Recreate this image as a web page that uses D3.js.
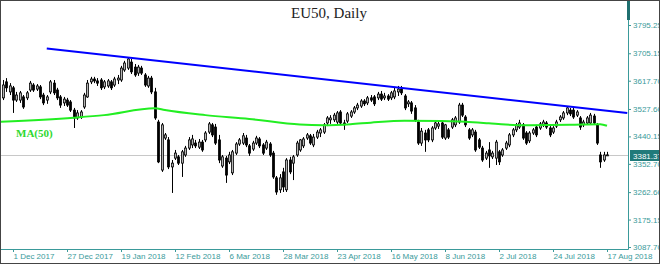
<!DOCTYPE html>
<html>
<head>
<meta charset="utf-8">
<script src="https://cdn.jsdelivr.net/npm/d3@7"></script>
<style>
  html, body { margin: 0; padding: 0; background: #fff; }
  svg { display: block; }
</style>
</head>
<body>
<div id="chart"></div>
<script>
// EU50 daily candles, [open, high, low, close], first bar sits 3 bars before "1 Dec 2017"
const FIRST_BAR = -3;
const ohlc = [
  [3563,3620,3556,3604], [3614,3626,3582,3595], [3582,3610,3572,3601],
  [3595,3601,3515,3556], [3556,3582,3550,3572], [3556,3585,3547,3579], [3566,3572,3528,3534],
  [3563,3585,3556,3579], [3588,3617,3582,3610], [3604,3610,3582,3588], [3591,3607,3585,3601],
  [3598,3604,3559,3566], [3572,3579,3540,3547], [3556,3572,3544,3566], [3582,3620,3575,3614],
  [3610,3620,3572,3579], [3588,3595,3556,3563], [3566,3572,3531,3540], [3547,3566,3537,3559],
  [3556,3563,3534,3540], [3550,3556,3518,3524], [3524,3531,3467,3499], [3499,3524,3493,3515],
  [3502,3524,3496,3518], [3534,3579,3528,3572], [3566,3620,3563,3610], [3614,3630,3607,3623],
  [3623,3630,3610,3617], [3617,3626,3601,3610], [3620,3626,3588,3595], [3598,3620,3591,3614],
  [3601,3623,3595,3617], [3614,3620,3588,3595], [3604,3630,3598,3623], [3620,3636,3607,3626],
  [3620,3665,3614,3658], [3652,3681,3646,3674], [3658,3693,3652,3687], [3677,3687,3639,3646],
  [3661,3671,3630,3636], [3642,3668,3633,3661], [3658,3665,3636,3642], [3636,3642,3598,3604],
  [3601,3633,3595,3626], [3626,3633,3575,3582], [3582,3595,3493,3499], [3486,3493,3355,3359],
  [3333,3483,3327,3477], [3435,3451,3429,3445], [3429,3438,3336,3343], [3343,3365,3260,3355],
  [3371,3397,3365,3387], [3375,3381,3349,3355], [3355,3397,3311,3391], [3381,3410,3375,3403],
  [3403,3438,3397,3429], [3413,3445,3403,3432], [3419,3429,3403,3410], [3406,3432,3400,3422],
  [3422,3429,3391,3397], [3429,3457,3422,3451], [3454,3486,3448,3480], [3477,3483,3438,3445],
  [3470,3480,3413,3419], [3429,3445,3355,3365], [3346,3381,3340,3375], [3371,3378,3292,3317],
  [3359,3391,3352,3381], [3324,3397,3317,3391], [3387,3422,3381,3416], [3416,3435,3410,3429],
  [3419,3451,3413,3442], [3435,3445,3406,3413], [3410,3416,3378,3387], [3400,3426,3394,3419],
  [3419,3442,3413,3435], [3432,3438,3403,3410], [3413,3419,3381,3387], [3403,3429,3397,3422],
  [3416,3422,3375,3381], [3387,3394,3305,3311], [3308,3314,3254,3263], [3270,3320,3260,3308],
  [3327,3340,3263,3279], [3270,3371,3263,3365], [3365,3375,3320,3327], [3355,3381,3301,3375],
  [3381,3426,3375,3419], [3397,3432,3391,3429], [3410,3438,3403,3432], [3435,3451,3429,3445],
  [3442,3448,3413,3419], [3413,3448,3406,3438], [3438,3461,3432,3454], [3451,3467,3438,3461],
  [3454,3483,3448,3477], [3483,3505,3473,3499], [3493,3508,3480,3499], [3493,3515,3486,3508],
  [3486,3521,3480,3515], [3518,3524,3477,3483], [3483,3493,3461,3477], [3489,3518,3483,3512],
  [3505,3524,3499,3518], [3518,3537,3512,3531], [3531,3547,3524,3540], [3537,3559,3531,3553],
  [3553,3559,3537,3544], [3547,3569,3540,3563], [3563,3572,3550,3556], [3566,3572,3537,3544],
  [3563,3582,3556,3575], [3575,3585,3553,3559], [3563,3579,3556,3569], [3569,3575,3553,3559],
  [3563,3585,3556,3579], [3566,3595,3559,3585], [3582,3601,3569,3591], [3591,3601,3572,3579],
  [3569,3575,3524,3531], [3544,3556,3534,3550], [3547,3553,3512,3521], [3531,3540,3486,3493],
  [3486,3493,3413,3419], [3419,3467,3410,3457], [3451,3461,3391,3429], [3461,3467,3422,3429],
  [3429,3473,3422,3467], [3467,3489,3461,3483], [3473,3489,3464,3480], [3483,3489,3432,3438],
  [3435,3480,3429,3477], [3461,3467,3432,3438], [3470,3499,3464,3493], [3477,3505,3470,3499],
  [3486,3547,3480,3540], [3540,3547,3502,3508], [3502,3508,3470,3477], [3461,3467,3429,3435],
  [3445,3467,3438,3461], [3454,3461,3391,3397], [3429,3435,3400,3406], [3403,3410,3359,3365],
  [3371,3394,3365,3387], [3397,3422,3340,3378], [3375,3394,3368,3387], [3371,3429,3349,3422],
  [3391,3397,3349,3359], [3381,3403,3375,3397], [3403,3426,3397,3419], [3413,3451,3406,3445],
  [3445,3467,3438,3461], [3461,3483,3454,3477], [3470,3493,3464,3483], [3477,3483,3429,3435],
  [3451,3457,3413,3419], [3426,3457,3419,3451], [3451,3467,3445,3461], [3470,3477,3438,3445],
  [3467,3486,3461,3480], [3477,3493,3470,3486], [3483,3489,3464,3470], [3467,3473,3438,3445],
  [3454,3473,3448,3467], [3473,3493,3467,3486], [3493,3508,3486,3502], [3499,3521,3493,3515],
  [3515,3537,3508,3531], [3524,3531,3505,3512], [3524,3531,3496,3502], [3508,3524,3502,3518],
  [3499,3505,3461,3470], [3477,3493,3470,3486], [3483,3505,3477,3499], [3483,3515,3477,3508],
  [3505,3512,3477,3483], [3477,3483,3413,3419], [3381,3391,3340,3359], [3365,3391,3359,3381],
  [3381,3391,3378,3381.37]
];

const xTickLabels = ['1 Dec 2017', '27 Dec 2017', '19 Jan 2018', '12 Feb 2018', '6 Mar 2018', '28 Mar 2018',
  '23 Apr 2018', '16 May 2018', '8 Jun 2018', '2 Jul 2018', '24 Jul 2018', '17 Aug 2018'];
const xTickBars = [0, 16, 32, 48, 64, 80, 96, 112, 128, 144, 160, 176];
const yTicks = [3087.70, 3175.15, 3262.60, 3352.70, 3440.15, 3527.60, 3617.70, 3705.15, 3795.25];

// MA(50) at a handful of bars
const maBars = [-4, 18, 27, 42, 45, 57, 70, 85, 92, 100, 106, 116, 127, 134, 141, 146, 153, 165, 174, 176];
const maValues = [3487, 3500, 3508, 3530, 3524, 3508, 3496, 3478, 3476, 3479, 3484, 3490, 3489, 3487, 3482, 3478, 3476, 3477, 3479, 3474];

// resistance trend line
const trendBars = [10, 182];
const trendValues = [3720, 3515];

const LAST_CLOSE = 3381.37;
const TEAL = '#3a9a9a';

function renderChart() {
  const width = 660;
  const height = 264;
  const plotRight = 628;
  const plotBottom = 249;

  const svg = d3.select('#chart').append('svg')
    .attr('width', width)
    .attr('height', height)
    .style('font-family', '"Liberation Sans", Arial, sans-serif');

  svg.append('rect').attr('width', width).attr('height', height).attr('fill', '#fff');

  const x = d3.scaleLinear().domain([0, 176]).range([13, 607]);
  const y = d3.scaleLinear().domain([3087.70, 3795.25]).range([247, 25]);

  svg.append('clipPath').attr('id', 'plot-clip')
    .append('rect').attr('x', 1).attr('y', 1).attr('width', plotRight - 1).attr('height', plotBottom - 1);

  const plot = svg.append('g').attr('clip-path', 'url(#plot-clip)');

  // last price line
  const yLast = Math.round(y(LAST_CLOSE)) + 0.5;
  plot.append('line')
    .attr('x1', 0).attr('x2', plotRight)
    .attr('y1', yLast).attr('y2', yLast)
    .attr('stroke', '#c8c8c8').attr('stroke-width', 1);

  // candles
  const bars = ohlc.map((d, i) => ({ bar: FIRST_BAR + i, o: d[0], h: d[1], l: d[2], c: d[3] }));
  const candle = plot.selectAll('g.candle')
    .data(bars)
    .enter()
    .append('g')
    .attr('class', 'candle');

  candle.append('line')
    .attr('x1', d => Math.round(x(d.bar)) + 0.5)
    .attr('x2', d => Math.round(x(d.bar)) + 0.5)
    .attr('y1', d => y(d.h))
    .attr('y2', d => y(d.l))
    .attr('stroke', '#000')
    .attr('stroke-width', 1);

  candle.append('rect')
    .attr('x', d => Math.round(x(d.bar)) - 0.5)
    .attr('width', 2)
    .attr('y', d => y(Math.max(d.o, d.c)))
    .attr('height', d => Math.max(1, Math.abs(y(d.o) - y(d.c))))
    .attr('fill', d => d.c >= d.o ? '#b4b4b4' : '#000')
    .attr('stroke', '#000')
    .attr('stroke-width', 0.8);

  // MA(50)
  const maLine = d3.line()
    .x(d => x(d[0]))
    .y(d => y(d[1]))
    .curve(d3.curveMonotoneX);

  plot.append('path')
    .datum(d3.zip(maBars, maValues))
    .attr('d', maLine)
    .attr('fill', 'none')
    .attr('stroke', '#22ee22')
    .attr('stroke-width', 2);

  // trend line
  plot.append('path')
    .datum(d3.zip(trendBars, trendValues))
    .attr('d', d3.line().x(d => x(d[0])).y(d => y(d[1])))
    .attr('fill', 'none')
    .attr('stroke', '#0000ff')
    .attr('stroke-width', 2);

  // axes
  const yAxis = d3.axisRight(y)
    .tickValues(yTicks)
    .tickSize(3)
    .tickPadding(2)
    .tickFormat(d3.format('.2f'));

  const yg = svg.append('g')
    .attr('transform', `translate(${plotRight},0)`)
    .call(yAxis);
  yg.select('.domain').remove();
  yg.selectAll('.tick line').attr('stroke', TEAL);
  yg.selectAll('.tick text')
    .attr('fill', TEAL)
    .style('font-size', '8px')
    .style('font-family', '"Liberation Sans", Arial, sans-serif');

  const xAxis = d3.axisBottom(x)
    .tickValues(xTickBars)
    .tickSize(3)
    .tickFormat((d, i) => xTickLabels[i]);

  const xg = svg.append('g')
    .attr('transform', `translate(0,${plotBottom})`)
    .call(xAxis);
  xg.select('.domain').remove();
  xg.selectAll('.tick line').attr('stroke', TEAL);
  xg.selectAll('.tick text')
    .attr('fill', TEAL)
    .attr('text-anchor', 'start')
    .attr('x', 0)
    .attr('y', 4)
    .style('font-size', '8px')
    .style('font-family', '"Liberation Sans", Arial, sans-serif');

  svg.append('line')
    .attr('x1', 0).attr('x2', plotRight + 0.5)
    .attr('y1', plotBottom + 0.5).attr('y2', plotBottom + 0.5)
    .attr('stroke', TEAL);
  svg.append('line')
    .attr('x1', plotRight + 0.5).attr('x2', plotRight + 0.5)
    .attr('y1', 0).attr('y2', plotBottom + 0.5)
    .attr('stroke', TEAL);
  svg.append('rect')
    .attr('x', plotRight - 1).attr('y', 1)
    .attr('width', 3).attr('height', 19)
    .attr('fill', '#1f6f6f');

  // last price tag
  svg.append('rect')
    .attr('x', plotRight + 2).attr('y', yLast - 5.5)
    .attr('width', 34).attr('height', 11)
    .attr('fill', '#207a7a');
  svg.append('text')
    .attr('x', plotRight + 5).attr('y', yLast + 3)
    .attr('fill', '#fff')
    .style('font-size', '8px')
    .text(d3.format('.2f')(LAST_CLOSE));

  // labels
  svg.append('text')
    .attr('x', 329).attr('y', 18)
    .attr('text-anchor', 'middle')
    .attr('fill', '#222')
    .style('font-family', '"Liberation Serif", "Times New Roman", serif')
    .style('font-size', '15px')
    .text('EU50, Daily');

  svg.append('text')
    .attr('x', 16).attr('y', 137)
    .attr('fill', '#2ed82e')
    .style('font-family', '"Liberation Serif", "Times New Roman", serif')
    .style('font-size', '11px')
    .style('font-weight', 'bold')
    .text('MA(50)');

  svg.append('rect')
    .attr('x', 0.5).attr('y', 0.5)
    .attr('width', width - 1).attr('height', height - 1)
    .attr('fill', 'none')
    .attr('stroke', '#444');
}

renderChart();
</script>
</body>
</html>
